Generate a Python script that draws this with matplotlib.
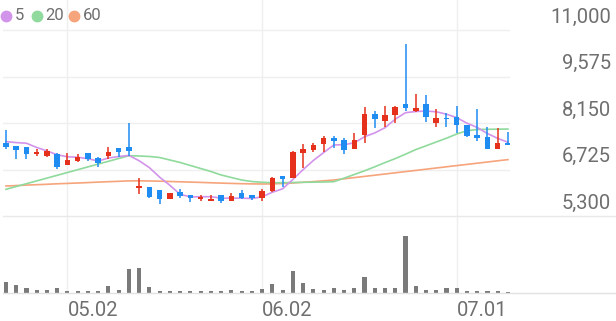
import matplotlib
matplotlib.use("Agg")
import matplotlib.pyplot as plt
from matplotlib.lines import Line2D

# ---------------- data ----------------
opens = [7530,7450,7420,7200,7150,7200,6860,6990,7240,7070,7140,7390,7420,6150,6180,
         6100,5830,6040,5940,5830,5750,5930,5750,6000,5940,5840,6070,6540,6460,7240,
         7320,7510,7680,7630,7350,7780,8420,8220,8400,8730,8520,8730,8160,8290,8330,
         8090,7780,7710,7350,7530]
highs = [7940,7450,7420,7360,7350,7240,7240,7200,7240,7120,7420,7390,8140,6460,6180,
         6100,6000,6120,5940,5940,5940,5930,6010,6100,5940,6120,6500,6540,7300,7500,
         7530,7750,7750,7680,7830,8650,8520,8670,8670,10570,9030,9010,8570,8450,8670,
         8090,8570,8020,7990,7880]
lows = [7340,7050,7040,7140,7110,6730,6860,6950,6990,6790,7040,7120,7150,5970,5840,
        5670,5830,5840,5740,5770,5750,5690,5750,5810,5790,5760,6040,6200,6460,6760,
        7270,7250,7370,7200,7350,7550,7990,8020,8140,8530,8480,8190,8040,8040,7850,
        7710,7610,7350,7350,7480]
closes = [7400,7320,7200,7260,7290,6810,7020,7120,7040,6930,7270,7250,7290,6230,5870,
          5810,6000,5910,5840,5890,5820,5770,5910,5840,5840,6080,6470,6430,7270,7350,
          7480,7680,7600,7320,7630,8420,8260,8400,8630,8620,8600,8330,8290,8260,8090,
          7750,7680,7350,7530,7480]
ma5 = [7580,7550,7530,7400,7294,7176,7116,7100,7056,6984,7076,7122,7156,6994,6782,
       6490,6240,5964,5886,5890,5892,5846,5846,5846,5836,5888,6028,6132,6418,6720,
       7000,7242,7476,7486,7542,7730,7846,8006,8268,8466,8502,8516,8494,8420,8314,
       8144,8014,7826,7680,7558]
ma20 = [6118,6204,6290,6376,6462,6547,6633,6719,6805,6891,6976,7062,7148,7139,7124,
        7093,7016,6940,6848,6756,6664,6557,6480,6403,6357,6333,6321,6321,6327,6333,
        6336,6342,6351,6459,6572,6685,6808,6937,7059,7194,7335,7451,7568,7684,7813,
        7914,7951,7957,7960,7966]
ma60 = [6219,6232,6247,6259,6272,6287,6299,6311,6324,6339,6351,6363,6376,6379,6373,
        6367,6357,6348,6339,6330,6318,6308,6299,6290,6284,6281,6284,6296,6311,6333,
        6354,6379,6403,6440,6477,6514,6550,6587,6624,6661,6697,6734,6771,6808,6845,
        6881,6918,6955,6992,7028]
volumes = [116,83,50,30,33,57,25,27,23,27,73,33,243,250,67,27,23,23,23,23,23,23,33,23,
           20,43,90,33,223,100,43,37,50,37,50,160,50,57,50,577,77,37,37,50,50,20,20,
           20,20,10]
xtick_pos = [6, 25, 44]
xtick_labels = ["05.02", "06.02", "07.01"]
ytick_vals = [5300, 6725, 8150, 9575, 11000]
ytick_labels = ["5,300", "6,725", "8,150", "9,575", "11,000"]
legend_labels = ["5", "20", "60"]

# ---------------- style ----------------
RED = "#e5311b"
BLUE = "#1e8cf0"
C5, C20, C60 = "#d294ea", "#8fda9c", "#f6a47b"
GRID = "#efefef"
TXT = "#6f6f6f"
W, H = 616, 321

plt.rcParams['font.family'] = ['Roboto', 'DejaVu Sans']
fig = plt.figure(figsize=(W / 100, H / 100), dpi=100)

def fx(px):
    return px / W

def fy(py):
    return 1 - py / H

ax_left, ax_right = 3, 510
price_bottom_px = 216
vol_base_px = 293.3
px_per_unit = (216 - 30) / (11000 - 5300)

ax = fig.add_axes([fx(ax_left), fy(price_bottom_px), fx(ax_right - ax_left), price_bottom_px / H])
axv = fig.add_axes([fx(ax_left), fy(vol_base_px), fx(ax_right - ax_left), (vol_base_px - price_bottom_px) / H])

n = len(closes)
xs = list(range(n))
x0 = -0.29
x1 = 49.2
for a in (ax, axv):
    a.set_xlim(x0, x1)
    for s in a.spines.values():
        s.set_visible(False)
    a.set_xticks([])
    a.set_yticks([])
    a.patch.set_alpha(0)

ax.set_ylim(5300, 5300 + price_bottom_px / px_per_unit)

# grid
for v in ytick_vals[1:]:
    ax.axhline(v, color=GRID, lw=1.0, zorder=0)
for p in xtick_pos:
    ax.axvline(p, color=GRID, lw=1.0, zorder=0)
    axv.axvline(p, color=GRID, lw=1.0, zorder=0)

# moving averages
ax.plot(xs, ma60, color=C60, lw=1.2, zorder=2)
ax.plot(xs, ma20, color=C20, lw=1.2, zorder=2)
ax.plot(xs, ma5, color=C5, lw=1.2, zorder=2)

# candles
for i in xs:
    o, h, l, c = opens[i], highs[i], lows[i], closes[i]
    col = RED if c >= o else BLUE
    ax.vlines(i, l, h, color=col, lw=1.1, zorder=3)
    bot = min(o, c)
    hgt = max(abs(c - o), 35)
    ax.bar(i, hgt, bottom=bot, width=0.54, color=col, zorder=4, linewidth=0)

# volume
axv.set_ylim(0, (vol_base_px - price_bottom_px) * 10)
axv.bar(xs, volumes, width=0.4, color="#7a7a7a", linewidth=0, zorder=3)

# full-width separator lines
fig.add_artist(Line2D([fx(ax_left), 1], [fy(price_bottom_px), fy(price_bottom_px)],
                      color="#e9e9e9", lw=1.0))
fig.add_artist(Line2D([fx(ax_left), 1], [fy(vol_base_px), fy(vol_base_px)],
                      color="#e2e2e2", lw=1.0))

# y labels (above grid lines, right side)
for v, lab in zip(ytick_vals, ytick_labels):
    ypx = 216 - (v - 5300) * px_per_unit
    fig.text(fx(611), fy(ypx - 13), lab, ha="right", va="center",
             fontsize=14.5, color=TXT)

# x labels
for p, lab in zip(xtick_pos, xtick_labels):
    xpx = ax_left + (p - x0) / (x1 - x0) * (ax_right - ax_left)
    fig.text(fx(xpx), fy(310), lab, ha="left", va="center", fontsize=14.5, color=TXT)

# legend
leg_x = [6, 36.7, 74]
for xx, lab, col in zip(leg_x, legend_labels, [C5, C20, C60]):
    fig.add_artist(Line2D([fx(xx)], [fy(15.7)], marker="o", markersize=7.5,
                          markerfacecolor=col, markeredgecolor=col, linestyle="none"))
    fig.text(fx(xx + 9), fy(15.7), lab, ha="left", va="center", fontsize=12, color=TXT)

fig.savefig("out.png", dpi=100)
